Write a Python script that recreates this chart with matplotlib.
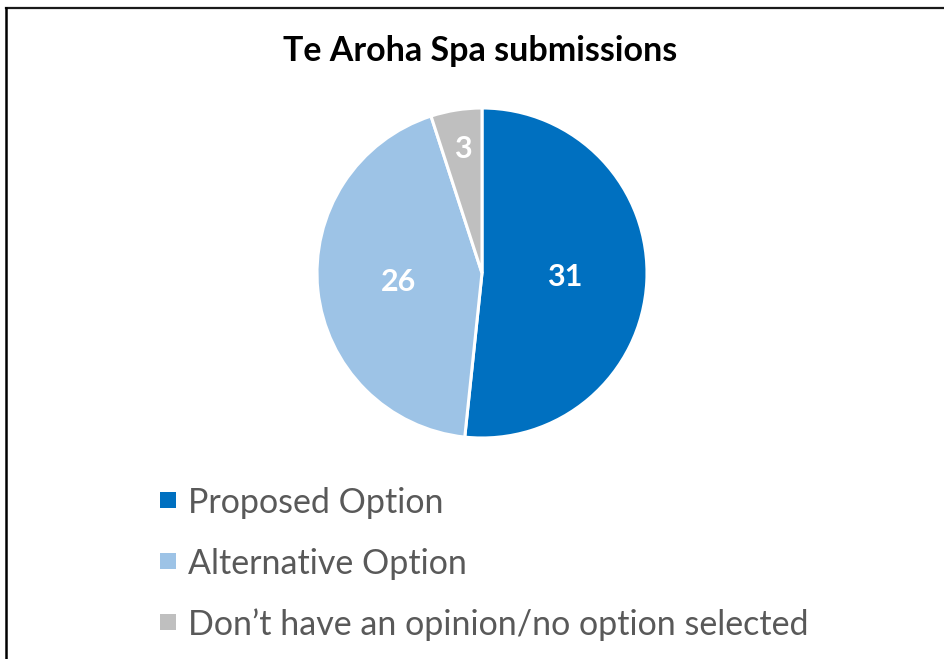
import matplotlib
matplotlib.use("Agg")
import matplotlib.pyplot as plt
from matplotlib.lines import Line2D
from matplotlib.patches import Rectangle
import numpy as np

title = "Te Aroha Spa submissions"
categories = ["Proposed Option", "Alternative Option", "Don\u2019t have an opinion/no option selected"]
values = [31, 26, 3]
colors = ["#0070C0", "#9DC3E6", "#BFBFBF"]

W, H = 944, 659
fig = plt.figure(figsize=(W / 100, H / 100), dpi=100)
plt.rcParams['font.family'] = ['Lato', 'DejaVu Sans']

# border (top and left)
fig.add_artist(Line2D([6 / W, 1], [1 - 8 / H, 1 - 8 / H], transform=fig.transFigure, color="#1a1a1a", lw=1.6))
fig.add_artist(Line2D([6 / W, 6 / W], [1 - 8 / H, 0], transform=fig.transFigure, color="black", lw=1.8))

fig.text(480 / W, 1 - 51 / H, title, ha="center", va="center", fontsize=24.5, fontweight="bold", color="black")

cx, cy, r = 482, 273, 165
ax = fig.add_axes([(cx - r) / W, 1 - (cy + r) / H, 2 * r / W, 2 * r / H])
wedges, _ = ax.pie(values, colors=colors, startangle=90, counterclock=False,
                   wedgeprops=dict(edgecolor="white", linewidth=2.2), radius=1)
ax.set_xlim(-1, 1)
ax.set_ylim(-1, 1)
ax.set_aspect("equal")
ax.axis("off")

label_r = [0.5, 0.51, 0.76]
for w, v, lr in zip(wedges, values, label_r):
    ang = np.deg2rad((w.theta1 + w.theta2) / 2)
    ax.text(lr * np.cos(ang), lr * np.sin(ang), str(v), ha="center", va="center",
            color="white", fontsize=22, fontweight="bold")

# legend drawn manually
for i, (cat, col) in enumerate(zip(categories, colors)):
    yc = 500 + 61 * i
    fig.add_artist(Rectangle((160 / W, 1 - (yc + 8) / H), 16 / W, 16 / H,
                             transform=fig.transFigure, facecolor=col, edgecolor="none"))
    fig.text(188 / W, 1 - yc / H, cat, ha="left", va="center_baseline", fontsize=24.5, color="#595959")

fig.savefig("out.png", dpi=100)
